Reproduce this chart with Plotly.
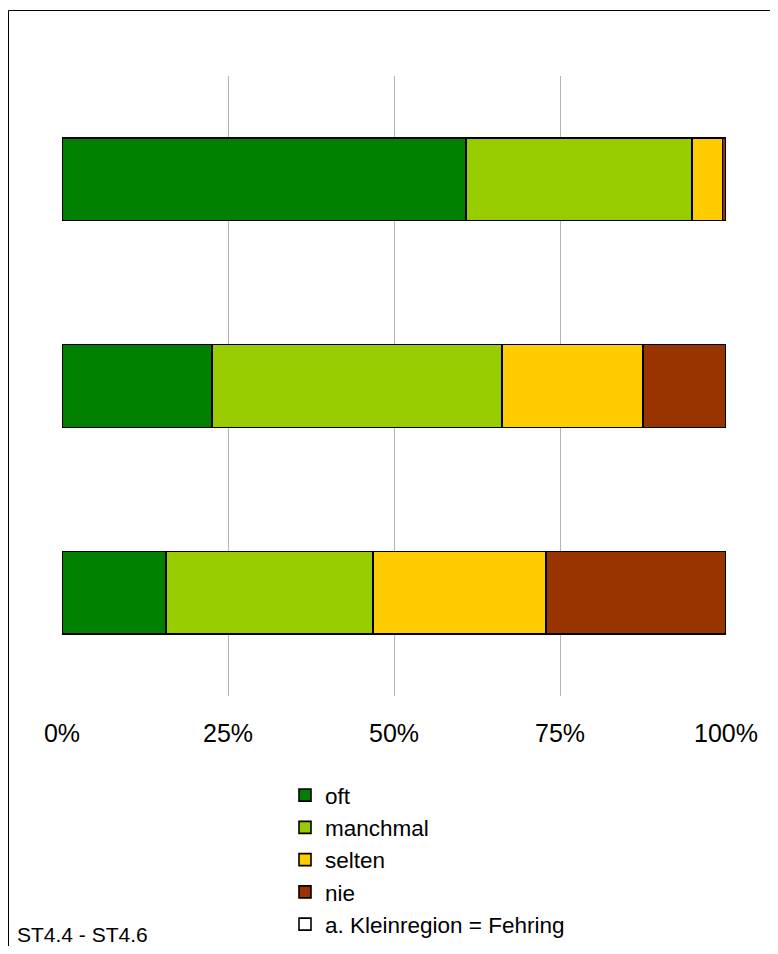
import plotly.graph_objects as go

categories = ["ST4.4", "ST4.5", "ST4.6"]
oft = [60.8, 22.6, 15.7]
manchmal = [34.1, 43.7, 31.1]
selten = [4.6, 21.2, 26.1]
nie = [0.5, 12.5, 27.1]
tick_vals = [0, 25, 50, 75, 100]
tick_text = ["0%", "25%", "50%", "75%", "100%"]

series = [
    ("oft", oft, "#007f00"),
    ("manchmal", manchmal, "#99cc00"),
    ("selten", selten, "#ffcc00"),
    ("nie", nie, "#993300"),
]

fig = go.Figure()
for name, vals, col in series:
    fig.add_trace(go.Bar(
        y=categories, x=vals, name=name, orientation="h",
        marker=dict(color=col, line=dict(color="black", width=1.6)),
    ))
fig.add_trace(go.Bar(
    y=[categories[0]], x=[None], name="a. Kleinregion = Fehring", orientation="h",
    marker=dict(color="white", line=dict(color="black", width=1.6)),
))

# page body has an 8px margin; work in figure pixel coordinates
OFF = 8
W, H = 778 - 2 * OFF, 954 - 2 * OFF
L, T = 62 - OFF, 76 - OFF
R = W - (726 - OFF)
B = H - (696 - OFF)
pw, ph = W - L - R, H - T - B

def px(x):
    return (x - OFF - L) / pw

def py(y):
    return (H - B - (y - OFF)) / ph

def cx(x):
    return (x - OFF) / W

def cy(y):
    return (H - (y - OFF)) / H

fig.update_layout(
    width=W, height=H,
    margin=dict(l=L, r=R, t=T, b=B, autoexpand=False),
    barmode="stack", bargap=0.6,
    plot_bgcolor="white", paper_bgcolor="white",
    font=dict(family="Liberation Sans, Arial, sans-serif", size=25, color="black"),
    showlegend=True,
    legend=dict(
        xref="container", yref="container",
        x=cx(285), y=cy(774), xanchor="left", yanchor="top",
        traceorder="normal", font=dict(size=22.5), bgcolor="rgba(0,0,0,0)",
    ),
    xaxis=dict(
        range=[0, 100], tickvals=tick_vals, ticktext=tick_text,
        showgrid=True, gridcolor="#b3b3b3", gridwidth=1,
        zeroline=False, showline=False,
        ticks="outside", ticklen=15, tickcolor="rgba(0,0,0,0)",
        tickfont=dict(size=25),
    ),
    yaxis=dict(
        autorange="reversed", showticklabels=False, showgrid=False,
        zeroline=False, showline=False,
    ),
    shapes=[
        dict(type="line", xref="paper", yref="paper",
             x0=px(8.5), x1=px(800), y0=py(10.5), y1=py(10.5),
             line=dict(color="black", width=1)),
        dict(type="line", xref="paper", yref="paper",
             x0=px(8.5), x1=px(8.5), y0=py(10.5), y1=py(990),
             line=dict(color="black", width=1)),
    ],
    annotations=[dict(
        text="ST4.4 - ST4.6", xref="paper", yref="paper",
        x=px(15), y=py(948), xanchor="left", yanchor="bottom",
        showarrow=False, font=dict(size=21),
    )],
)

fig.write_html("out.html")
